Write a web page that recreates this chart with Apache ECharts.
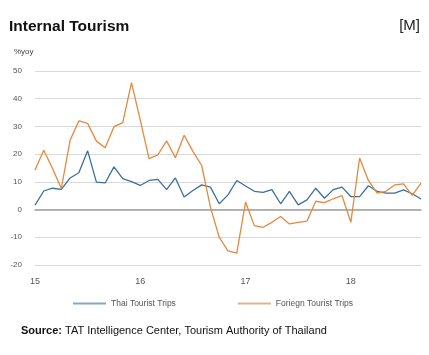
<!DOCTYPE html>
<html>
<head>
<meta charset="utf-8">
<script src="https://cdn.jsdelivr.net/npm/echarts@6/dist/echarts.min.js"></script>
<style>
html,body{margin:0;padding:0;background:#fff;}
#c{width:429px;height:355px;}
</style>
</head>
<body>
<div id="c"></div>
<script>
var months = [];
(function(){
  for (var y = 2015; y <= 2018; y++) {
    for (var m = 1; m <= 12; m++) {
      if (y === 2018 && m > 9) break;
      months.push(y + '-' + (m < 10 ? '0' + m : m));
    }
  }
})();

var thaiTrips = [1.6, 6.7, 7.7, 7.3, 11.4, 13.3, 21.2, 9.9, 9.6, 15.4, 11.2, 10.1,
  8.7, 10.5, 10.9, 7.2, 11.4, 4.5, 6.9, 8.9, 8.1, 2.1, 5.3, 10.5,
  8.5, 6.6, 6.2, 7.2, 2.1, 6.6, 1.7, 3.5, 7.7, 4.1, 7.2, 8.1,
  4.7, 4.7, 8.6, 6.6, 5.9, 5.9, 7.1, 5.7, 3.8];
var foreignTrips = [14.3, 21.4, 14.8, 7.6, 25.0, 32.0, 31.1, 24.7, 22.3, 29.9, 31.4, 45.8,
  32.3, 18.4, 19.7, 24.8, 18.7, 26.8, 21.0, 15.9, 0.8, -10.0, -14.9, -15.7,
  2.7, -5.8, -6.4, -4.6, -2.5, -5.2, -4.6, -4.2, 3.0, 2.5, 3.9, 5.0,
  -4.6, 18.6, 10.5, 5.9, 6.6, 8.9, 9.3, 5.1, 9.5];
var yTicks = {min: -20, max: 50, interval: 10};

var chart = echarts.init(document.getElementById('c'), null, {renderer: 'canvas'});
chart.setOption({
  animation: false,
  backgroundColor: '#fff',
  textStyle: {fontFamily: 'Arial, Liberation Sans, sans-serif'},
  graphic: [
    {type: 'text', left: 9, top: 19, style: {text: 'Internal Tourism', fontSize: 15.5, fontWeight: 'bold', fill: '#111', fontFamily: 'Arial, Liberation Sans, sans-serif'}},
    {type: 'text', right: 9, top: 18, style: {text: '[M]', fontSize: 15, fill: '#222', fontFamily: 'Arial, Liberation Sans, sans-serif'}},
    {type: 'text', left: 14, top: 48, style: {text: '%yoy', fontSize: 8, fill: '#444', fontFamily: 'Arial, Liberation Sans, sans-serif'}},
    {type: 'text', left: 21, top: 325, style: {
      text: '{b|Source:} TAT Intelligence Center, Tourism Authority of Thailand',
      fontSize: 11, fill: '#111', fontFamily: 'Arial, Liberation Sans, sans-serif',
      rich: {b: {fontWeight: 'bold', fontSize: 11, fill: '#111', fontFamily: 'Arial, Liberation Sans, sans-serif'}}
    }}
  ],
  legend: {
    top: 294,
    left: 68,
    itemGap: 62,
    itemWidth: 33,
    itemHeight: 2,
    icon: 'rect',
    textStyle: {fontSize: 8.5, color: '#555'},
    data: [
      {name: 'Thai Tourist Trips', itemStyle: {color: '#8aa7c2'}},
      {name: 'Foriegn Tourist Trips', itemStyle: {color: '#e3b48a'}}
    ]
  },
  grid: {left: 35, right: 8, top: 71, bottom: 90, containLabel: false},
  xAxis: {
    type: 'category',
    data: months,
    boundaryGap: false,
    axisLine: {onZero: true, lineStyle: {color: '#a0a0a0', width: 1.5}},
    axisTick: {show: false},
    axisLabel: {
      interval: function (i) { return i % 12 === 0; },
      formatter: function (v) { return v.substr(2, 2); },
      color: '#555', fontSize: 9,
      margin: 12
    },
    splitLine: {show: false}
  },
  yAxis: {
    type: 'value',
    min: yTicks.min, max: yTicks.max, interval: yTicks.interval,
    axisLine: {show: false},
    axisTick: {show: false},
    axisLabel: {color: '#555', fontSize: 8, margin: 13},
    splitLine: {lineStyle: {color: '#d9d9d9', width: 1}}
  },
  series: [
    {name: 'Thai Tourist Trips', type: 'line', data: thaiTrips, showSymbol: false, symbol: 'none',
      lineStyle: {color: '#3e6f9c', width: 1.3}, itemStyle: {color: '#3e6f9c'}},
    {name: 'Foriegn Tourist Trips', type: 'line', data: foreignTrips, showSymbol: false, symbol: 'none',
      lineStyle: {color: '#e38a3f', width: 1.3}, itemStyle: {color: '#e38a3f'}}
  ]
});
</script>
</body>
</html>
